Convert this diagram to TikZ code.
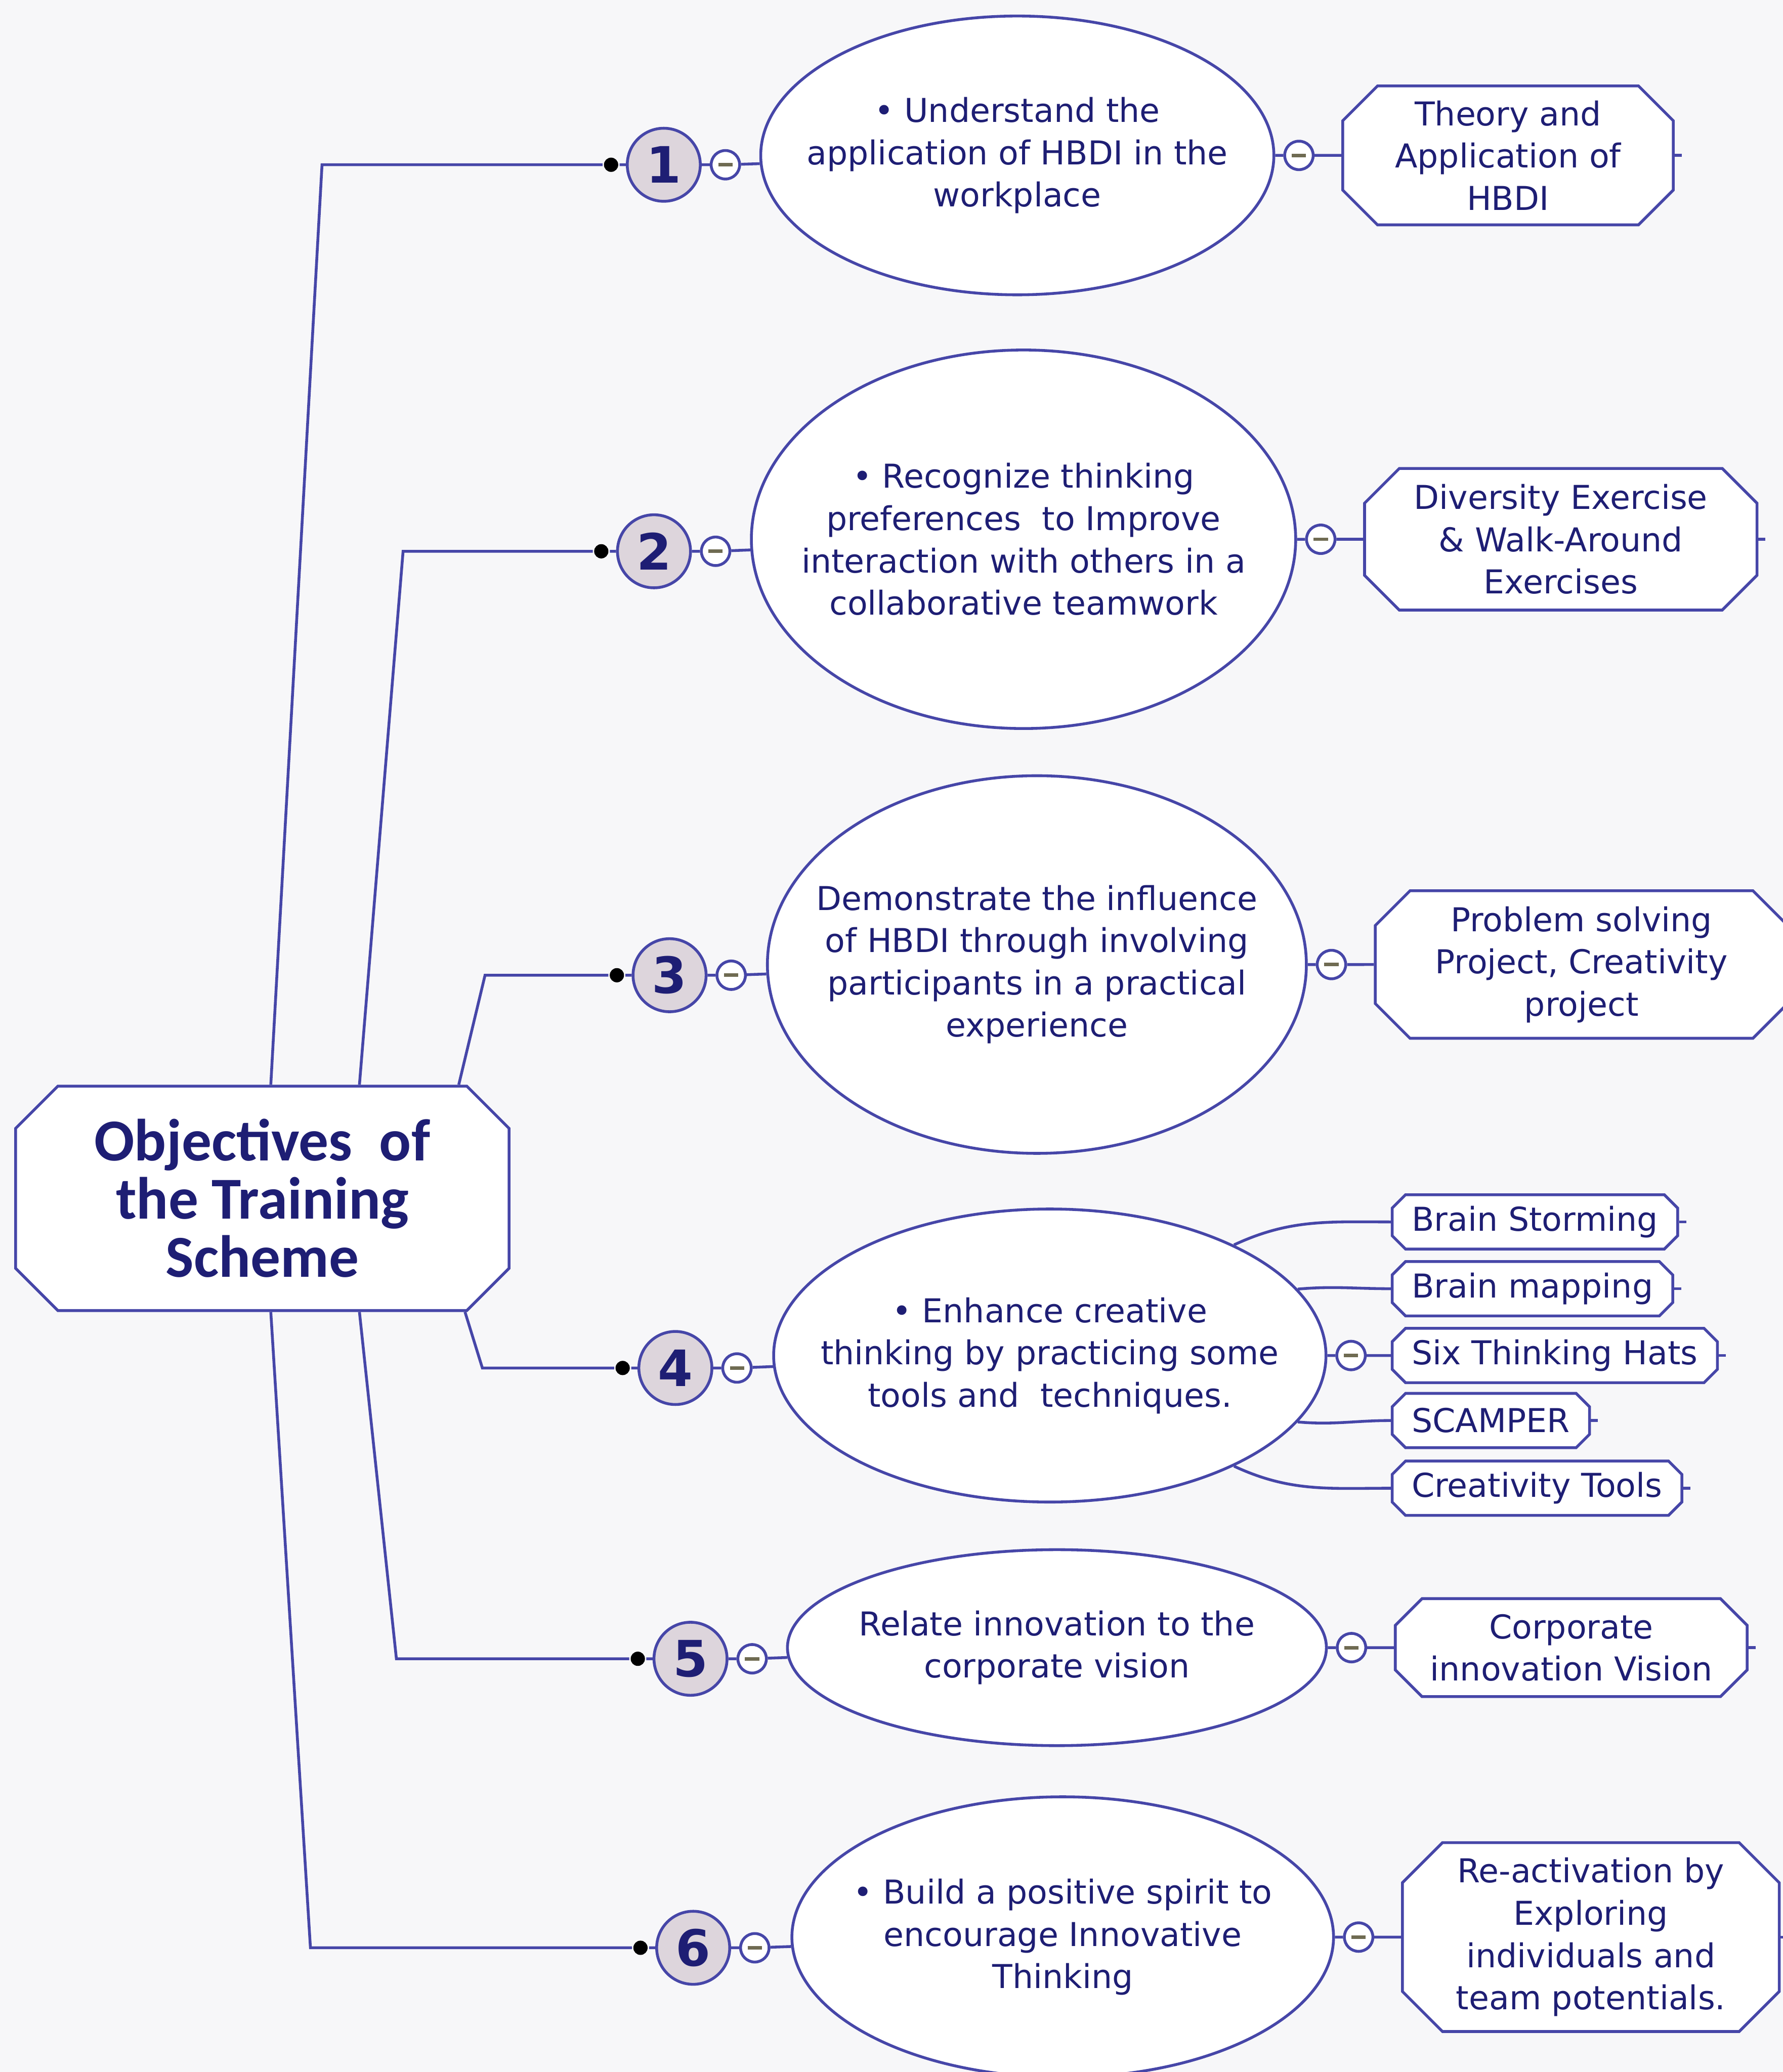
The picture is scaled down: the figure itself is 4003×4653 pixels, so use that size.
\documentclass[tikz,border=0pt]{standalone}
\usepackage{fontspec}
\setmainfont{DejaVu Sans}
\newfontfamily\hubfont{Carlito}
\usetikzlibrary{positioning,shapes.geometric,shapes.misc}
\definecolor{navy}{HTML}{1E1E74}
\definecolor{wire}{HTML}{4646A8}
\definecolor{disc}{HTML}{DDD5DC}
\definecolor{paper}{HTML}{F7F7F9}
\definecolor{foldmark}{HTML}{6F6B52}

\begin{document}
\begin{tikzpicture}[x=0.05mm,y=-0.05mm,line width=0.9pt,
  txt/.style={text=navy,align=center,font=\fontsize{10.5}{13.5}\selectfont},
  hub/.style={chamfered rectangle,chamfered rectangle sep=0.2375cm,draw=wire,fill=white,text=navy,align=center,inner sep=0pt,minimum width=5.54cm,minimum height=2.52cm,font=\hubfont\bfseries\fontsize{19}{18.6}\selectfont},
  goal/.style={ellipse,draw=wire,fill=white,inner sep=0pt},
  num/.style={circle,draw=wire,fill=disc,text=navy,inner sep=0pt,minimum size=0.82cm,font=\bfseries\fontsize{16}{16}\selectfont},
  fold/.style={circle,draw=wire,fill=white,inner sep=0pt,minimum size=0.32cm,path picture={\draw[foldmark,line width=1.1pt] ([xshift=-0.08cm]path picture bounding box.center) -- ([xshift=0.08cm]path picture bounding box.center);}},
  knob/.style={circle,fill=black,inner sep=0pt,minimum size=0.16cm},
  topic/.style={chamfered rectangle,chamfered rectangle sep=0.195cm,draw=wire,fill=white,txt,inner xsep=0pt,inner ysep=-0.02cm},
  chip/.style={chamfered rectangle,chamfered rectangle sep=0.075cm,draw=wire,fill=white,txt,inner xsep=0.145cm,inner ysep=0pt,minimum height=0.61cm}]
\path[use as bounding box,fill=paper] (0,0) rectangle (4003,4653);

\node[hub] (obj) at (589,2691) {Objectives\ \ of\\the Training\\Scheme};

\coordinate (k1) at (723,370);
\coordinate (k2) at (905,1238);
\coordinate (k3) at (1089,2190);
\coordinate (k4) at (1083,3072);
\coordinate (k5) at (890,3725);
\coordinate (k6) at (697,4374);

\node[knob] (d1) at (1372,370) {};
\node[num,right=0.07cm of d1] (n1) {1};
\node[fold,right=0.09cm of n1] (f1) {};
\node[goal,minimum width=5.76cm,minimum height=3.13cm,label={[txt]center:• Understand the\\application of HBDI in the\\workplace}] (e1) at (2284,349) {};
\node[fold,right=0.09cm of e1] (g1) {};
\node[topic,right=0.3cm of g1,minimum width=3.71cm,minimum height=1.555cm,inner ysep=-0.03cm] (r1) {Theory and\\Application of\\HBDI};

\node[knob] (d2) at (1350,1238) {};
\node[num,right=0.07cm of d2] (n2) {2};
\node[fold,right=0.09cm of n2] (f2) {};
\node[goal,minimum width=6.11cm,minimum height=4.25cm,label={[txt]center:• Recognize thinking\\preferences\ \ to Improve\\interaction with others in a\\collaborative teamwork}] (e2) at (2298,1211) {};
\node[fold,right=0.09cm of e2] (g2) {};
\node[topic,right=0.3cm of g2,minimum width=4.405cm,minimum height=1.59cm] (r2) {Diversity Exercise\\\& Walk-Around\\Exercises};

\node[knob] (d3) at (1385,2190) {};
\node[num,right=0.07cm of d3] (n3) {3};
\node[fold,right=0.09cm of n3] (f3) {};
\node[goal,minimum width=6.05cm,minimum height=4.24cm,label={[txt]center:Demonstrate the influence\\of HBDI through involving\\participants in a practical\\experience}] (e3) at (2328,2166) {};
\node[fold,right=0.09cm of e3] (g3) {};
\node[topic,right=0.3cm of g3,minimum width=4.63cm,minimum height=1.6cm] (r3) {Problem solving\\Project, Creativity\\project};

\node[knob] (d4) at (1398,3072) {};
\node[num,right=0.07cm of d4] (n4) {4};
\node[fold,right=0.09cm of n4] (f4) {};
\node[goal,minimum width=6.2cm,minimum height=3.29cm,label={[txt]center:• Enhance creative\\thinking by practicing some\\tools and\ \ techniques.}] (e4) at (2357,3044) {};
\node[fold,right=0.09cm of e4] (g4) {};
\node[chip,right=0.27cm of g4] (c3) {Six Thinking Hats};
\node[chip,anchor=west] (c2) at ([yshift=0.75cm]c3.west) {Brain mapping};
\node[chip,anchor=west] (c1) at ([yshift=0.75cm]c2.west) {Brain Storming};
\node[chip,anchor=west] (c4) at ([yshift=-0.73cm]c3.west) {SCAMPER};
\node[chip,anchor=west] (c5) at ([yshift=-0.76cm]c4.west) {Creativity Tools};

\node[knob] (d5) at (1432,3725) {};
\node[num,right=0.07cm of d5] (n5) {5};
\node[fold,right=0.09cm of n5] (f5) {};
\node[goal,minimum width=6.05cm,minimum height=2.2cm,label={[txt]center:Relate innovation to the\\corporate vision}] (e5) at (2373,3700) {};
\node[fold,right=0.09cm of e5] (g5) {};
\node[topic,right=0.3cm of g5,minimum width=3.95cm,minimum height=1.1cm,chamfered rectangle sep=0.15cm,inner ysep=0pt] (r5) {Corporate\\innovation Vision};

\node[knob] (d6) at (1438,4374) {};
\node[num,right=0.07cm of d6] (n6) {6};
\node[fold,right=0.09cm of n6] (f6) {};
\node[goal,minimum width=6.08cm,minimum height=3.15cm,label={[txt]center:• Build a positive spirit to\\encourage Innovative\\Thinking}] (e6) at (2386,4350) {};
\node[fold,right=0.09cm of e6] (g6) {};
\node[topic,right=0.3cm of g6,minimum width=4.23cm,minimum height=2.045cm,chamfered rectangle sep=0.225cm,inner ysep=-0.055cm] (r6) {Re-activation by\\Exploring\\individuals and\\team potentials.};

\draw[wire] ([xshift=0.095cm]obj.north) -- (k1) -- (d1) -- (n1) -- (f1) -- (e1) -- (g1) -- (r1);
\draw[wire] ([xshift=1.09cm]obj.north) -- (k2) -- (d2) -- (n2) -- (f2) -- (e2) -- (g2) -- (r2);
\draw[wire] ([xshift=2.205cm]obj.north) -- (k3) -- (d3) -- (n3) -- (f3) -- (e3) -- (g3) -- (r3);
\draw[wire] ([xshift=2.275cm]obj.south) -- (k4) -- (d4) -- (n4) -- (f4) -- (e4) -- (g4) -- (c3);
\draw[wire] ([xshift=1.09cm]obj.south) -- (k5) -- (d5) -- (n5) -- (f5) -- (e5) -- (g5) -- (r5);
\draw[wire] ([xshift=0.095cm]obj.south) -- (k6) -- (d6) -- (n6) -- (f6) -- (e6) -- (g6) -- (r6);

\draw[wire] (e4.31) to[out=25,in=180] (c1.west);
\draw[wire] (e4.15) to[out=5,in=180] (c2.west);
\draw[wire] (e4.-15) to[out=-5,in=180] (c4.west);
\draw[wire] (e4.-31) to[out=-25,in=180] (c5.west);

\draw[wire] (r1.east) -- ([xshift=0.08cm]r1.east) (r2.east) -- ([xshift=0.08cm]r2.east)
  (r3.east) -- ([xshift=0.08cm]r3.east) (r5.east) -- ([xshift=0.08cm]r5.east)
  (r6.east) -- ([xshift=0.08cm]r6.east) (c1.east) -- ([xshift=0.08cm]c1.east)
  (c2.east) -- ([xshift=0.08cm]c2.east) (c3.east) -- ([xshift=0.08cm]c3.east)
  (c4.east) -- ([xshift=0.08cm]c4.east) (c5.east) -- ([xshift=0.08cm]c5.east);
\end{tikzpicture}
\end{document}
